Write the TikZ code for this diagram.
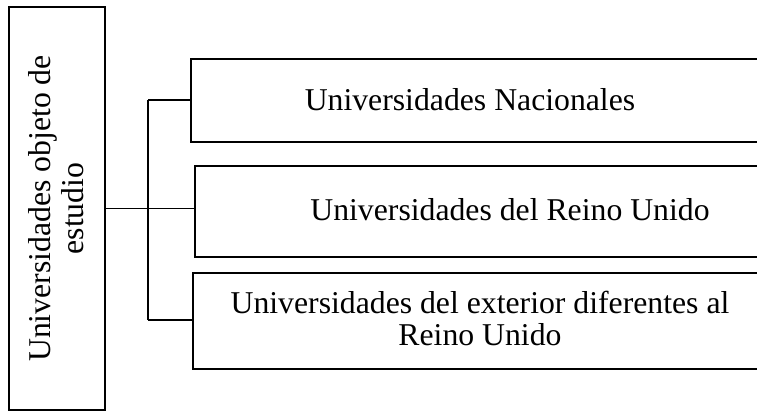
\documentclass[tikz,border=0pt]{standalone}
\usepackage{fontspec}
\setmainfont{Liberation Serif}
\begin{document}
\begin{tikzpicture}[x=0.75pt,y=-0.75pt,
  box/.style={draw=black,line width=1.2pt,rectangle,inner sep=0pt},
  conn/.style={draw=black,line width=1pt},
  lbl/.style={inner sep=0pt,font=\fontsize{23.8}{24.75}\selectfont,align=center}]
\useasboundingbox (0,0) rectangle (757,412);
\clip (0,0) rectangle (757,412);
% left box
\node[box,minimum width=96*0.75pt,minimum height=403*0.75pt] (L) at (57,208.5) {};
\node[lbl,rotate=90] (Lt) at (56,208.5) {Universidades objeto de\\estudio};
% right boxes
\node[box,anchor=north west,minimum width=600*0.75pt,minimum height=83*0.75pt] (B1) at (190,58) {};
\node[box,anchor=north west,minimum width=600*0.75pt,minimum height=91*0.75pt] (B2) at (194,165) {};
\node[box,anchor=north west,minimum width=600*0.75pt,minimum height=96*0.75pt] (B3) at (192,272) {};
\node[lbl,anchor=base] (T1) at (470,110) {Universidades Nacionales};
\node[lbl,anchor=base] (T2) at (510,220) {Universidades del Reino Unido};
\node[lbl,anchor=base] (T3a) at (480,313) {Universidades del exterior diferentes al};
\node[lbl,anchor=base] (T3b) at (480,345) {Reino Unido};
% connectors
\coordinate (J) at (148,208.5);
\draw[conn] (L.east |- J) -- (J);
\draw[conn] (148,100) -- (148,320);
\draw[conn] (148,100) -- (B1.west |- 0,100);
\draw[conn] (J) -- (B2.west |- J);
\draw[conn] (148,320) -- (B3.west |- 0,320);
\end{tikzpicture}
\end{document}
